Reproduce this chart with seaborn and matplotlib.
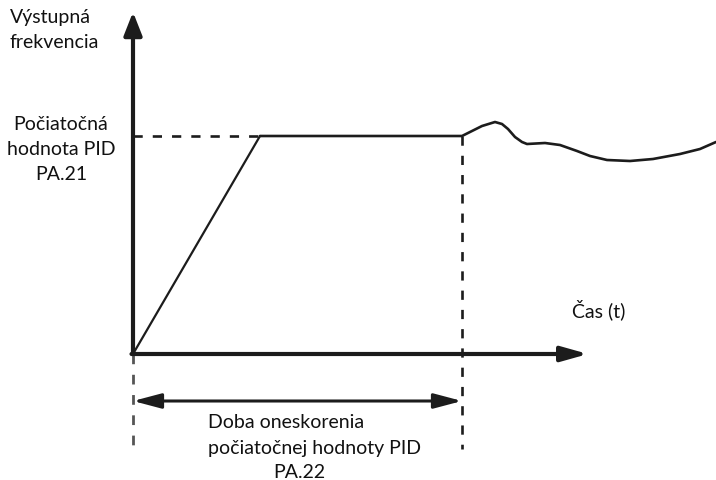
import matplotlib
matplotlib.use("Agg")
import matplotlib.pyplot as plt
import seaborn as sns
import pandas as pd
import numpy as np

sns.set_theme(style="white")
plt.rcParams['font.family'] = ['Lato', 'DejaVu Sans']

# Data (time, output frequency) in diagram units; origin at axis crossing
ramp_t = [0, 127]
ramp_f = [0, 218]
hold_t = [127, 329, 339, 349, 362, 369, 375, 382, 389, 394, 412, 427, 444, 457, 474, 497, 520, 547, 567, 583]
hold_f = [218, 218, 223, 228, 232, 230, 225, 217, 212, 210, 211, 209, 203, 198, 194, 193, 195, 200, 205, 212]

pid_start_level = 218
delay_end = 329

y_label = ["Výstupná", "frekvencia"]
level_label = ["Počiatočná", "hodnota PID", "PA.21"]
x_label = "Čas (t)"
delay_label = ["Doba oneskorenia", "počiatočnej hodnoty PID", "PA.22"]

W, H = 716, 481
OX, OY = 133, 355  # origin in pixels

fig = plt.figure(figsize=(W / 100, H / 100), dpi=100)
ax = fig.add_axes([0, 0, 1, 1])
ax.set_xlim(-OX, W - OX)
ax.set_ylim(-(H - OY), OY)
ax.axis("off")

def P(x, y):
    return (x - OX, OY - y)

dark = "#1c1c1c"

ramp = pd.DataFrame({"t": ramp_t, "f": ramp_f})
hold = pd.DataFrame({"t": hold_t, "f": hold_f})
sns.lineplot(data=ramp, x="t", y="f", ax=ax, color=dark, lw=1.6, sort=False, estimator=None)
sns.lineplot(data=hold, x="t", y="f", ax=ax, color=dark, lw=1.9, sort=False, estimator=None)
for l in ax.lines:
    l.set_solid_joinstyle("round")
ax.set_xlabel(""); ax.set_ylabel("")

dash = (0, (3.5, 3.8))
ax.plot([0, ramp_t[1]], [pid_start_level, pid_start_level], color=dark, lw=1.9, linestyle=dash)
ax.plot([delay_end, delay_end], [pid_start_level, OY - 450], color=dark, lw=1.9, linestyle=dash)
ax.plot([0, 0], [0, OY - 447], color="#555555", lw=2.0, linestyle=dash)

# axes with arrows
ax.annotate("", xy=P(133, 13), xytext=P(133, 355),
            arrowprops=dict(arrowstyle="-|>,head_length=1.4,head_width=0.55", mutation_scale=10,
                            lw=3, color=dark, shrinkA=0, shrinkB=0))
ax.annotate("", xy=P(588, 355), xytext=P(131.5, 355),
            arrowprops=dict(arrowstyle="-|>,head_length=1.6,head_width=0.45", mutation_scale=10,
                            lw=3, color=dark, shrinkA=0, shrinkB=0))
ax.annotate("", xy=(0, OY - 402), xytext=(delay_end, OY - 402),
            arrowprops=dict(arrowstyle="<|-|>,head_length=1.7,head_width=0.45", mutation_scale=10,
                            lw=2.2, color=dark, shrinkA=0, shrinkB=0))

fs = 14
tc = "#111111"
ax.text(*P(10, 18), y_label[0], fontsize=fs, color=tc, ha="left", va="center")
ax.text(*P(10, 43), y_label[1], fontsize=fs, color=tc, ha="left", va="center")
for i, s in enumerate(level_label):
    ax.text(*P(61, 124 + 25.5 * i), s, fontsize=fs, color=tc, ha="center", va="center")
ax.text(*P(572, 310), x_label, fontsize=fs, color=tc, ha="left", va="center")
ax.text(*P(208, 423), delay_label[0], fontsize=fs, color=tc, ha="left", va="center")
ax.text(*P(208, 449), delay_label[1], fontsize=fs, color=tc, ha="left", va="center")
ax.text(*P(299, 473), delay_label[2], fontsize=fs, color=tc, ha="center", va="center")

fig.savefig("out.png", dpi=100, facecolor="white")
